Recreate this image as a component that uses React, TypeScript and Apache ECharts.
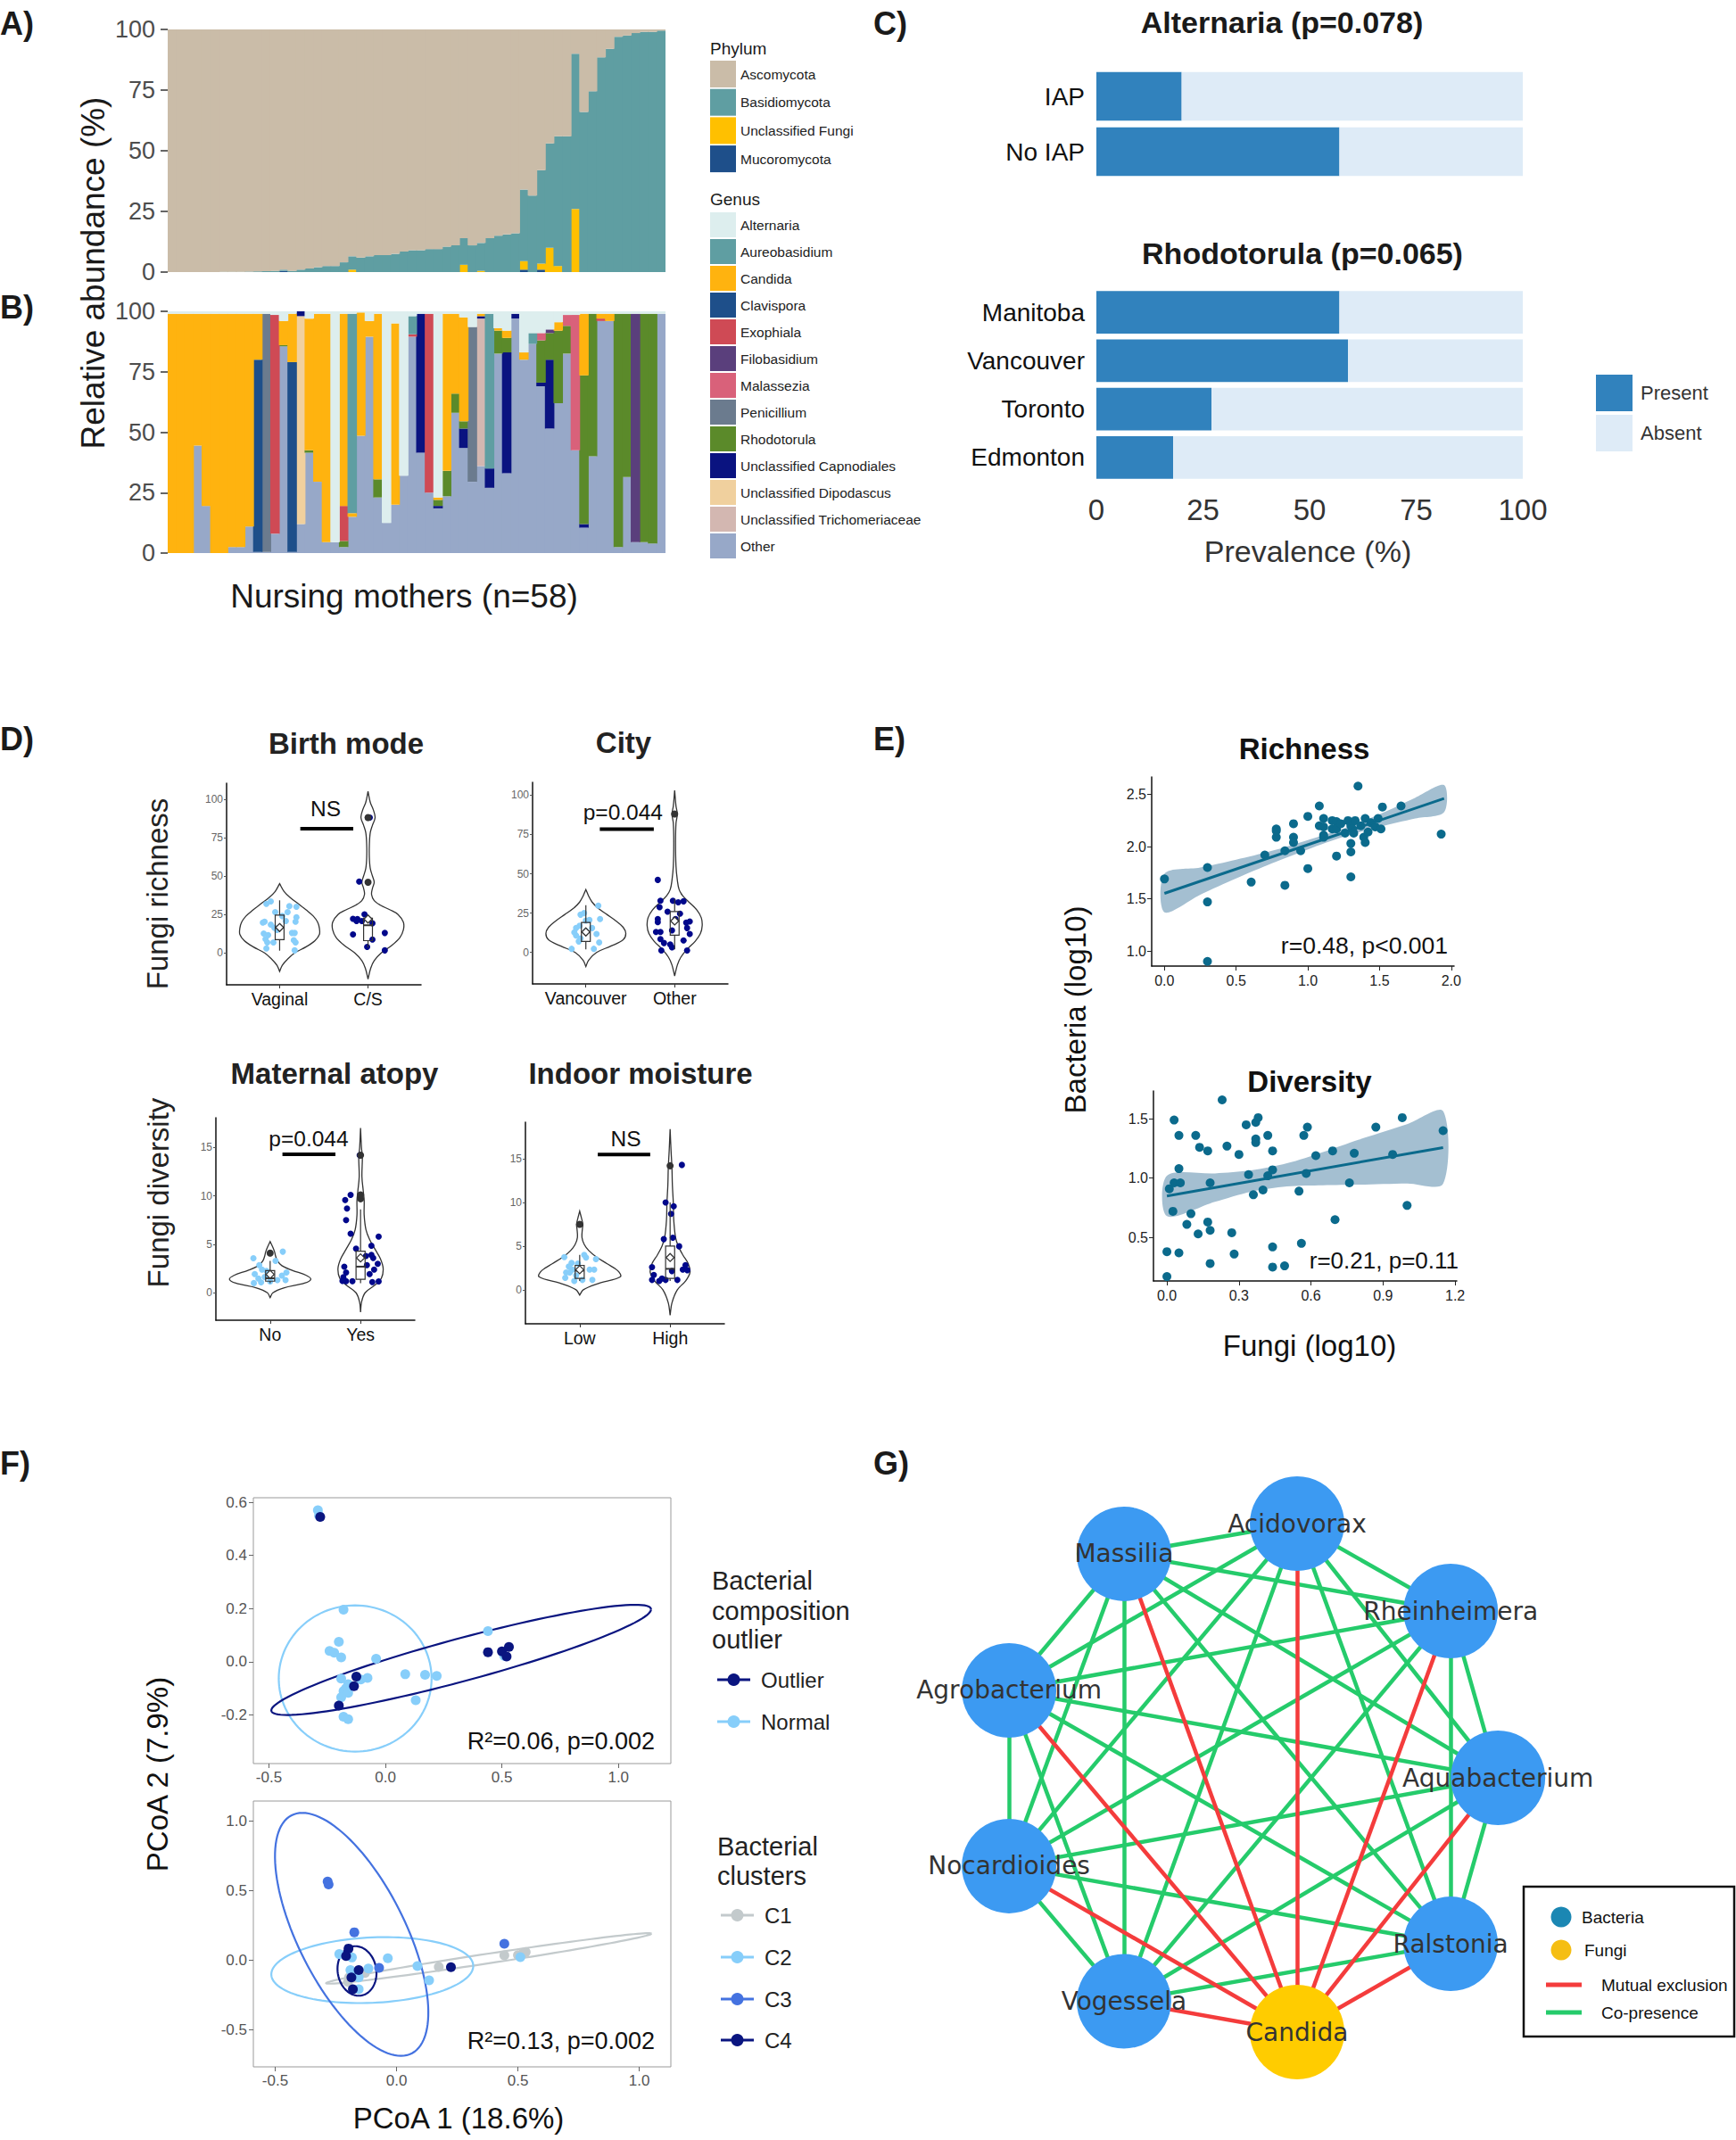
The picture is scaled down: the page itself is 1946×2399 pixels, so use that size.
import React, { useEffect, useRef } from 'react';
import * as echarts from 'echarts';

const FONT = '"Liberation Sans", Arial, Helvetica, sans-serif';
const GFONT = '"DejaVu Sans", Verdana, sans-serif';

// ---------------- Panel A (phylum) ----------------
const sampleIds = Array.from({ length: 58 }, (_, i) => 'M' + (i + 1));
const phylumLegend = ['Ascomycota', 'Basidiomycota', 'Unclassified Fungi', 'Mucoromycota'];
const phylumColors = ['#CABCA8', '#5F9EA2', '#FFC000', '#1E4F8A'];
const pMucoromycota = [0,0,0,0,0,0,0,0,0,0, 0,0,0,0.5,0,0,0,0,0,0, 0,0,0,0,0,0,0,0,0,0, 0,0,0,0,0,0,0,0,0,0, 0,1,0,1,0,0,0,0,0,0, 0,0,0,0,0,0,0,0];
const pUnclassified = [0,0,0,0,0,0,0,0,0,0, 0,0,0,0,0,0,0,0,0,0, 0,1,0,0,0,0,0,0,0,0, 0,0,0,0,3,0,0.5,0,0,0, 0,3.5,0,2.5,10,2.5,0,26,0,0, 0,0,0,0,0,0,0,0];
const pBasidiomycota = [0,0,0,0,0,0,0.1,0.1,0.1,0.2, 0.3,0.4,0.5,0.5,0.5,1,1.5,2,2.5,2.5, 4,5.5,6,6.5,7,7,7.5,8.5,9,9, 9.5,9.5,10.5,11,11,11,11.5,14,15,15.5, 16,29.5,31.5,38.5,43,53.5,56,64,66,74.5, 88.5,92,97,97.5,98.5,99,99,99.5];
const pAscomycota = [100,100,100,100,100,100,99.9,99.9,99.9,99.8, 99.7,99.6,99.5,99,99.5,99,98.5,98,97.5,97.5, 96,93.5,94,93.5,93,93,92.5,91.5,91,91, 90.5,90.5,89.5,89,86,89,88,86,85,84.5, 84,66,68.5,58,47,44,44,10,34,25.5, 11.5,8,3,2.5,1.5,1,1,0.5];

// ---------------- Panel B (genus) ----------------
const genusLegend = ['Alternaria','Aureobasidium','Candida','Clavispora','Exophiala','Filobasidium','Malassezia','Penicillium','Rhodotorula','Unclassified Capnodiales','Unclassified Dipodascus','Unclassified Trichomeriaceae','Other'];
const genusColors = ['#DDEEEE','#5F9EA2','#FFB30F','#1E4F8A','#CF4A55','#5A3F7C','#D9617A','#6B7B8E','#5B8A2A','#0A1380','#F0D09E','#D3B7B1','#97A8C8'];
const gAlternaria = [1,1,1,1,1,1,1,1,1,1, 1,1,1.5,4,1,0,3,1,1,95.5, 1,1,0.5,4,1,87.5,5,68,2,1, 1,77,1,1,2.5,6.5,1,1,7,8, 1,17,9,9,7.5,4.5,1.5,1.5,1,1, 1,1,1,1,1,1,1,1];
const gAureobasidium = [0,0,0,0,0,0,0,0,0,0, 0,0,0,0,0,0,0,0,0,0, 0,82.5,0,0,0,0,0,0,7.5,0, 0,0,0,0,0,0,0,64,0,0, 0,0,4.5,0,0,0,0,0,0,0, 0,0,0,0,0,0,0,0];
const gCandida = [99,99,99,54.5,79.5,99,99,96.5,96.5,88, 19,0,0,10,20,0,54.5,69.5,94.5,0, 79.5,1.5,51,6.5,68.5,0,75,0,0,0, 0,1,65,33,43,0,1,0,1,3, 0,3,0,0,0,3.5,0,0,25.5,0, 2,3,0,0,0,0,0,0];
const gClavispora = [0,0,0,0,0,0,0,0,0,0, 79.5,0,0,0,78.5,0,0,0,0,0, 0,0,0,0,0,0,0,0,0,0, 0,0,0,0,0,0,0,0,0,0, 0,0,0,0,0,0,0,0,0,0, 0,0,0,0,0,0,0,0];
const gExophiala = [0,0,0,0,0,0,0,0,0,0, 0,0,90.5,0,0,0,0,0,0,0, 14.5,0,0,0,0,0,0,0,1,0, 74,0,0,0,0,0,0,0,0,0, 0,0,0,0,0,0,0,0,0,0, 1,0,0,0,0,0,0,0];
const gFilobasidium = [0,0,0,0,0,0,0,0,0,0, 0,0,0,0,0,0,0,0,0,0, 0,0,0,0,0,0,0,0,0,0, 0,0,0,0,0,0,0,0,0,0, 0,0,0,0,1.5,0,0,0,0,0, 0,0,0,0,94.5,0,0,0];
const gMalassezia = [0,0,0,0,0,0,0,0,0,0, 0,0,0,0,0,0,0,0,0,0, 0,0,0,0,0,0,0,0,0,0, 0,0,0,0,0,0,0,0,0,0, 0,0,0,3,0,0,4.5,56,0,0, 0,0,0,0,0,0,0,0];
const gPenicillium = [0,0,0,0,0,0,0,0,0,0, 0,98.5,0,0,0,0,0,0,0,0, 0,0,0,0,0,0,0,0,0,0, 0,0,0,0,0,64,0,0,0,0, 0,0,0,0,0,0,0,0,0,0, 0,0,0,0,0,0,0,0];
const gRhodotorula = [0,0,0,0,0,0,0,0,0,0, 0,0,0,0.5,0,0,1,0,0,0, 2.5,0,0,0,7.5,0,0,0,0,0, 0,2.5,10.5,8,3,0,0,0,9.5,6, 0,0,0,17.5,11,30,11.5,0,61.5,59, 0,0,96.5,67.5,0,94.5,95,0];
const gCapnodiales = [0,0,0,0,0,0,0,0,0,0, 0,0,0,0,0,2,0,0,0,0, 0,0,0,0,0,0,0,0,0,57.5, 0,1,0,0,8,0,1,8,0,50, 2,0,0,1.5,28.5,0,0,0,1.5,0, 0,0,0,0,0,0,0,0];
const gDipodascus = [0,0,0,0,0,0,0,0,0,0, 0,0,0,0,0,86,0,0,0,0, 0,0,0,0,0,0,0,0,0,0, 0,0,0,0,0,0,0,0,0,0, 0,0,0,0,0,0,0,0,0,0, 0,0,0,0,0,0,0,0];
const gTrichomeriaceae = [0,0,0,0,0,0,0,0,0,0, 0,0,0,0,0,0,0,0,0,0, 0,0,0,0,0,0,0,0,0,0, 0,0,0,0,0,0,61,0,0,0, 0,0,0,0,0,0,0,0,0,0, 0,0,0,0,0,0,0,0];
const gOther = [0,0,0,44.5,19.5,0,0,2.5,2.5,11, 0.5,0.5,8,85.5,0.5,12,41.5,29.5,4.5,4.5, 2.5,15,48.5,89.5,23,12.5,20,32,89.5,41.5, 25,18.5,23.5,58,43.5,29.5,36,27,82.5,33, 97,80,86.5,69,51.5,62,82.5,42.5,10.5,40, 96,96,2.5,31.5,4.5,4.5,4,99];

// ---------------- Panel C ----------------
const iapCats = ['IAP', 'No IAP'];
const iapPresent = [20, 57];
const iapAbsent = [80, 43];
const cityCatsC = ['Manitoba', 'Vancouver', 'Toronto', 'Edmonton'];
const cityPresent = [57, 59, 27, 18];
const cityAbsent = [43, 41, 73, 82];
const prevalenceTicks = [0, 25, 50, 75, 100];

// ---------------- Panel D ----------------
const birthCats = ['Vaginal', 'C/S'];
const cityCats = ['Vancouver', 'Other'];
const atopyCats = ['No', 'Yes'];
const moistCats = ['Low', 'High'];
const richTicks = [0, 25, 50, 75, 100];
const divTicks = [0, 5, 10, 15];
// violin profiles: [y, half-width]
const vaginalViolin = [[-12,0],[-8,0.03],[-4,0.09],[0,0.17],[4,0.3],[8,0.4],[12,0.45],[16,0.45],[20,0.43],[24,0.38],[28,0.3],[32,0.21],[36,0.12],[40,0.05],[45,0]];
const csViolin = [[-17,0],[-10,0.03],[-5,0.07],[0,0.15],[5,0.27],[10,0.36],[15,0.4],[20,0.4],[25,0.34],[28,0.25],[31,0.14],[34,0.07],[38,0.04],[42,0.05],[46,0.07],[50,0.05],[55,0.025],[62,0.015],[70,0.015],[78,0.025],[83,0.05],[88,0.08],[93,0.06],[98,0.025],[105,0]];
const vanViolin = [[-9,0],[-5,0.03],[0,0.12],[4,0.28],[8,0.42],[12,0.45],[16,0.42],[20,0.34],[24,0.24],[28,0.14],[32,0.07],[36,0.03],[40,0]];
const otherViolin = [[-15,0],[-8,0.03],[-3,0.07],[2,0.14],[7,0.23],[12,0.29],[17,0.31],[22,0.3],[27,0.25],[32,0.16],[36,0.09],[40,0.05],[46,0.03],[55,0.015],[70,0.01],[82,0.015],[88,0.03],[93,0.015],[103,0]];
const atopyNoViolin = [[-0.5,0],[0,0.03],[0.5,0.15],[1,0.38],[1.4,0.45],[1.8,0.4],[2.3,0.25],[2.8,0.13],[3.3,0.08],[3.8,0.06],[4.2,0.05],[4.7,0.03],[5.3,0]];
const atopyYesViolin = [[-2,0],[-1,0.01],[0,0.05],[0.8,0.16],[1.5,0.23],[2.5,0.25],[3.5,0.22],[4.5,0.16],[5.5,0.1],[6.5,0.06],[8,0.04],[9.5,0.04],[10.5,0.03],[12,0.015],[14,0.02],[15,0.01],[17,0]];
const moistLowViolin = [[-0.6,0],[0,0.04],[0.7,0.2],[1.5,0.45],[2.2,0.42],[3,0.3],[3.8,0.18],[4.5,0.1],[5.2,0.05],[6,0.025],[7,0.03],[7.5,0.035],[8.2,0.02],[9,0]];
const moistHighViolin = [[-2.9,0],[-1.5,0.02],[0,0.08],[1,0.17],[2,0.22],[3,0.2],[4,0.14],[5,0.09],[6,0.06],[8,0.04],[10,0.035],[12,0.025],[14,0.02],[16,0.01],[18.4,0]];
// boxes: [x, low, q1, median, q3, high]
const birthBoxes = [[1,1.5,8.7,16.4,24.6,34.2],[2,3.5,8,18,22.5,25]];
const cityBoxes = [[1,2,7,13,19,30],[2,2,11,20,26,34]];
const atopyBoxes = [[1,1.0,1.2,1.5,2.3,3.3],[2,1.0,1.4,2.7,4.3,8.6]];
const moistBoxes = [[1,1.0,1.3,2.2,2.8,4.0],[2,1.0,1.3,2.4,5.0,10.0]];
const birthMeans = [[1,16.5],[2,22]];
const cityMeans = [[1,13],[2,20]];
const atopyMeans = [[1,1.9],[2,3.6]];
const moistMeans = [[1,2.3],[2,3.7]];
const birthOutliers = [[2,46],[2,88]];
const cityOutliers = [[2,88]];
const atopyOutliers = [[1,4.1],[2,9.7],[2,10.1],[2,14.2]];
const moistOutliers = [[1,7.5],[2,14.2]];
// significance: [x1, x2, y, textX, textY, label]
const birthSig = [1.234, 1.833, 80.7, 1.52, 94, 'NS'];
const citySig = [1.157, 1.765, 78.3, 1.418, 89, 'p=0.044'];
const atopySig = [1.136, 1.722, 14.3, 1.426, 15.9, 'p=0.044'];
const moistSig = [1.2, 1.78, 15.5, 1.51, 17.3, 'NS'];
const vaginalPts = [[0.85,31.9],[0.90,33.5],[0.83,20.3],[0.82,12.6],[0.87,11.6],[0.86,6.8],[0.93,6.8],[0.85,2.9],[0.95,26.5],[0.90,18.4],[0.94,16.4],[0.97,14.9],[0.81,19.7],[1.11,30.4],[1.09,26.5],[1.19,30.0],[1.19,23.2],[1.18,20.3],[1.14,13.0],[1.17,13.0],[1.16,8.3],[1.18,6.8],[1.17,1.7],[1.07,20.7],[1.03,24.0],[0.84,9.0]];
const csPts = [[1.83,22.2],[1.87,20.7],[1.93,20.7],[1.83,12.0],[2.05,8.7],[1.99,3.9],[2.19,13.0],[2.19,1.7],[1.96,25.1],[1.88,22.0],[2.02,88.0],[1.90,46.4],[2.05,19.3]];
const vanPts = [[0.84,2.3],[0.89,10.8],[0.87,12.7],[0.93,17],[0.94,8.9],[0.92,7],[1.0,20.2],[0.94,24],[0.98,25],[1.14,29.7],[1.16,21.2],[1.12,11.7],[1.15,6.4],[1.09,2.3],[1.07,15.5],[1.0,13.6],[0.89,15.5],[1.04,20.6]];
const otherPts = [[1.81,46.1],[1.84,32.9],[1.83,28.7],[1.81,21.2],[1.81,19.3],[1.84,13],[1.84,8.5],[1.85,1.3],[1.92,25.9],[1.95,5.1],[1.97,3.2],[1.98,32.9],[2.04,31.9],[2.1,32.5],[2.06,24.6],[2.13,18.9],[2.14,15.5],[2.17,19.7],[2.17,11.7],[2.1,7.6],[2.14,1.3],[1.97,14],[1.88,6],[2.01,21.2],[1.79,13]];
const atopyNoPts = [[0.815,3.57],[1.14,4.25],[1.06,3.3],[0.88,2.86],[0.91,2.4],[0.83,1.94],[0.87,1.48],[0.94,1.63],[0.9,1.08],[1.0,1.17],[1.08,1.32],[1.13,1.78],[1.17,1.32],[0.96,2.25],[0.82,1.0],[1.18,2.1]];
const atopyYesPts = [[1.83,9.57],[1.89,10.1],[1.85,8.7],[1.84,7.5],[1.89,6.1],[1.82,2.7],[1.84,2.1],[1.81,1.6],[1.84,1.2],[1.91,1.2],[1.80,1.23],[2.07,2.86],[2.1,1.94],[2.12,4.86],[2.12,3.9],[2.14,3.6],[2.19,3.0],[2.2,5.8],[2.2,1.17],[2.13,1.1],[2.06,3.8],[1.99,14.2],[1.95,4.55],[2.15,2.4]];
const moistLowPts = [[0.83,3.75],[0.91,3.07],[0.88,2.66],[0.85,1.98],[0.84,1.37],[0.92,2.32],[0.96,1.64],[0.94,1.02],[1.03,1.13],[1.11,2.32],[1.07,3.69],[1.18,3.52],[1.16,2.32],[1.14,1.13],[1.05,4.0],[0.98,3.0],[0.89,1.98]];
const moistHighPts = [[1.95,10],[2.04,9.56],[2.01,8.7],[1.93,5.8],[2.03,5.97],[2.1,4.98],[1.8,2.6],[1.82,1.7],[1.8,1.13],[1.88,1.02],[1.95,1.13],[2.08,1.13],[2.02,2.15],[2.14,2.32],[2.17,2.83],[2.19,2.25],[2.13,14.3],[1.91,1.3]];

// ---------------- Panel E ----------------
const richnessPts = [[0.0,1.69],[0.30,1.80],[0.30,1.47],[0.30,0.90],[0.605,1.66],[0.70,1.92],[0.78,2.17],[0.78,2.09],[0.78,2.15],[0.84,1.63],[0.84,1.96],[0.90,2.22],[0.90,2.09],[0.90,2.04],[0.95,1.96],[1.00,2.29],[1.00,1.79],[1.08,2.39],[1.08,2.20],[1.11,2.27],[1.11,2.19],[1.11,2.11],[1.11,2.09],[1.17,2.25],[1.17,2.17],[1.20,2.24],[1.20,2.17],[1.20,1.91],[1.23,2.22],[1.26,2.13],[1.28,2.25],[1.30,2.20],[1.30,2.03],[1.30,1.95],[1.30,1.71],[1.31,2.17],[1.32,2.13],[1.33,2.25],[1.35,2.58],[1.37,2.20],[1.39,2.09],[1.40,2.27],[1.40,2.04],[1.42,2.14],[1.44,2.23],[1.47,2.19],[1.49,2.27],[1.51,2.17],[1.52,2.38],[1.65,2.39],[1.93,2.12]];
const richnessLine = [[0, 1.552], [1.95, 2.462]];
const richnessBandX = [0, 0.25, 0.5, 0.75, 1.0, 1.25, 1.5, 1.75, 1.95];
const richnessBandLo = [1.37, 1.54, 1.695, 1.84, 1.974, 2.095, 2.19, 2.27, 2.33];
const richnessBandHi = [1.74, 1.80, 1.875, 1.96, 2.064, 2.175, 2.31, 2.47, 2.59];
const richXTicks = [0, 0.5, 1.0, 1.5, 2.0];
const richYTicks = [1.0, 1.5, 2.0, 2.5];
const diversityPts = [[0.23,1.66],[0.03,1.49],[0.05,1.36],[0.05,1.08],[0.01,0.91],[0.03,0.96],[0.056,0.96],[0.025,0.72],[0.0,0.38],[0.0,0.17],[0.05,0.37],[0.083,0.61],[0.10,0.70],[0.12,1.36],[0.136,1.26],[0.13,0.53],[0.17,1.23],[0.17,0.63],[0.18,0.56],[0.18,0.28],[0.18,0.96],[0.25,1.27],[0.27,0.54],[0.28,0.36],[0.30,1.20],[0.33,1.45],[0.34,1.03],[0.37,1.47],[0.38,1.51],[0.37,1.33],[0.37,1.30],[0.36,0.86],[0.40,0.90],[0.42,1.36],[0.42,1.02],[0.44,1.23],[0.44,1.07],[0.44,0.42],[0.44,0.25],[0.49,0.26],[0.55,0.89],[0.56,0.45],[0.57,1.36],[0.585,1.43],[0.58,1.04],[0.62,1.19],[0.69,1.23],[0.70,0.65],[0.76,0.96],[0.78,1.21],[0.87,1.43],[0.94,1.20],[0.98,1.51],[1.00,0.77],[1.15,1.40]];
const diversityLine = [[0, 0.85], [1.15, 1.258]];
const diversityBandX = [0, 0.2, 0.35, 0.5, 0.65, 0.8, 1.0, 1.15];
const diversityBandLo = [0.68, 0.80, 0.885, 0.93, 0.94, 0.945, 0.955, 0.952];
const diversityBandHi = [1.02, 1.04, 1.065, 1.125, 1.22, 1.325, 1.455, 1.565];
const divXTicks = [0, 0.3, 0.6, 0.9, 1.2];
const divYTicks = [0.5, 1.0, 1.5];

// ---------------- Panel F ----------------
const normalPts = [[-0.29,0.57],[-0.285,0.55],[-0.18,0.196],[-0.20,0.075],[-0.24,0.041],[-0.22,0.034],[-0.19,0.016],[-0.04,0.011],[-0.19,-0.063],[-0.16,-0.084],[-0.17,-0.10],[-0.18,-0.11],[-0.16,-0.117],[-0.19,-0.134],[-0.106,-0.067],[-0.077,-0.061],[0.085,-0.047],[0.17,-0.049],[0.22,-0.053],[0.13,-0.145],[-0.18,-0.207],[-0.16,-0.216],[0.44,0.115],[0.51,0.022]];
const outlierPts = [[-0.28,0.545],[-0.125,-0.056],[-0.135,-0.092],[-0.20,-0.165],[0.44,0.036],[0.50,0.039],[0.53,0.056],[0.52,0.02]];
const c1Pts = [[-0.20,-0.156],[-0.196,-0.124],[-0.13,-0.092],[0.174,-0.049],[0.444,0.034],[0.50,0.036],[0.52,0.047],[0.532,0.058]];
const c2Pts = [[-0.236,0.043],[-0.184,0.019],[-0.19,-0.071],[-0.16,-0.10],[-0.156,-0.124],[-0.156,-0.21],[-0.116,-0.06],[-0.036,0.013],[0.086,-0.043],[0.134,-0.146],[0.51,0.021]];
const c3Pts = [[-0.284,0.565],[-0.28,0.544],[-0.174,0.20],[0.444,0.118],[-0.072,-0.056]];
const c4Pts = [[-0.198,0.083],[-0.208,0.03],[-0.156,-0.071],[-0.18,-0.21],[0.224,-0.051],[-0.186,-0.124]];
// ellipses: [cx, cy, ax, ay, bx, by]
const normalEllipse = [-0.13, -0.063, 0.328, 0, 0, 0.275];
const outlierEllipse = [0.325, 0.007, 0.815, 0.19, 0, 0.083];
const c1Ellipse = [0.38, 0.012, 0.67, 0.178, 0, 0.035];
const c2Ellipse = [-0.1, -0.072, 0.416, 0.03, 0, 0.235];
const c3Ellipse = [-0.185, 0.185, -0.203, 0.873, 0.242, 0];
const c4Ellipse = [-0.163, -0.078, -0.007, 0.178, 0.08, 0];
const fXTicks = [-0.5, 0.0, 0.5, 1.0];
const fUpperYTicks = [-0.2, 0.0, 0.2, 0.4, 0.6];
const fLowerYTicks = [-0.5, 0.0, 0.5, 1.0];

// ---------------- Panel G ----------------
const nodeNames = ['Acidovorax','Massilia','Rheinheimera','Agrobacterium','Aquabacterium','Nocardioides','Ralstonia','Vogessela','Candida'];
const nodeKinds = ['Bacteria','Bacteria','Bacteria','Bacteria','Bacteria','Bacteria','Bacteria','Bacteria','Fungi'];
const nodeX = [0, -0.681, 0.604, -1.133, 0.79, -1.133, 0.604, -0.681, 0];
const nodeY = [1, 0.881, 0.656, 0.344, 0, -0.347, -0.653, -0.879, -1];
const copresenceEdges = [[0,1],[0,2],[0,3],[0,4],[0,5],[0,6],[0,7],[1,2],[1,3],[1,4],[1,5],[1,6],[1,7],[2,3],[2,4],[2,5],[2,6],[2,7],[3,4],[3,5],[3,6],[3,7],[4,5],[4,6],[4,7],[5,6],[5,7],[6,7]];
const exclusionEdges = [[8,0],[8,1],[8,2],[8,3],[8,4],[8,5],[8,6],[8,7]];

const LIGHT = '#87CEFA';
const NAVY = '#00088B';
const TEAL = '#0B6A8C';

function txt(text: string, x: number, y: number, o: any = {}) {
  return {
    type: 'text', x, y, rotation: o.rot || 0, z: 100,
    style: {
      text, fontSize: o.size || 20, fontWeight: o.bold ? 'bold' : 'normal',
      fontFamily: o.font || FONT, fill: o.color || '#1a1a1a',
      align: o.align || 'left', verticalAlign: 'middle',
    },
  };
}

function violin(gi: number, cx: number, prof: number[][]) {
  return {
    type: 'custom', xAxisIndex: gi, yAxisIndex: gi, data: [[cx, prof[0][0]]], z: 2, silent: true,
    renderItem: (_p: any, api: any) => {
      const right = prof.map(([y, w]) => api.coord([cx + w, y]));
      const left = prof.slice().reverse().map(([y, w]) => api.coord([cx - w, y]));
      return { type: 'polygon', shape: { points: right.concat(left), smooth: 0.35 }, style: { fill: 'none', stroke: '#333', lineWidth: 1.3 } };
    },
  };
}

function boxes(gi: number, bx: number[][]) {
  return {
    type: 'custom', xAxisIndex: gi, yAxisIndex: gi, data: bx.map((b) => [b[0], b[3]]), z: 4, silent: true,
    renderItem: (p: any, api: any) => {
      const [cx, lo, q1, md, q3, hi] = bx[p.dataIndex];
      const hw = 0.05;
      const a = api.coord([cx - hw, q3]);
      const b = api.coord([cx + hw, q1]);
      const m1 = api.coord([cx - hw, md]);
      const m2 = api.coord([cx + hw, md]);
      const w1 = api.coord([cx, lo]);
      const w2 = api.coord([cx, q1]);
      const w3 = api.coord([cx, q3]);
      const w4 = api.coord([cx, hi]);
      const st = { stroke: '#333', lineWidth: 1.2, fill: 'none' };
      return {
        type: 'group', children: [
          { type: 'line', shape: { x1: w1[0], y1: w1[1], x2: w2[0], y2: w2[1] }, style: st },
          { type: 'line', shape: { x1: w3[0], y1: w3[1], x2: w4[0], y2: w4[1] }, style: st },
          { type: 'rect', shape: { x: a[0], y: a[1], width: b[0] - a[0], height: b[1] - a[1] }, style: st },
          { type: 'line', shape: { x1: m1[0], y1: m1[1], x2: m2[0], y2: m2[1] }, style: { stroke: '#333', lineWidth: 2 } },
        ],
      };
    },
  };
}

function sig(gi: number, s: any[]) {
  return {
    type: 'custom', xAxisIndex: gi, yAxisIndex: gi, data: [[s[0], s[2]]], z: 5, silent: true,
    renderItem: (_p: any, api: any) => {
      const a = api.coord([s[0], s[2]]);
      const b = api.coord([s[1], s[2]]);
      const t = api.coord([s[3], s[4]]);
      return {
        type: 'group', children: [
          { type: 'line', shape: { x1: a[0], y1: a[1], x2: b[0], y2: b[1] }, style: { stroke: '#000', lineWidth: 4 } },
          { type: 'text', x: t[0], y: t[1], style: { text: s[5], fontSize: 24.5, fontFamily: FONT, fill: '#111', align: 'center', verticalAlign: 'middle' } },
        ],
      };
    },
  };
}

function scatter(gi: number, data: number[][], color: string, size: number, z = 3, extra: any = {}) {
  return { type: 'scatter', xAxisIndex: gi, yAxisIndex: gi, data, symbolSize: size, z, silent: true, itemStyle: { color, opacity: 1, ...(extra.itemStyle || {}) }, symbol: extra.symbol || 'circle', name: extra.name };
}

function ellipse(gi: number, e: number[], color: string) {
  return {
    type: 'custom', xAxisIndex: gi, yAxisIndex: gi, data: [[e[0], e[1]]], z: 2, silent: true,
    renderItem: (_p: any, api: any) => {
      const pts: number[][] = [];
      for (let k = 0; k <= 120; k++) {
        const t = (k / 120) * Math.PI * 2;
        pts.push(api.coord([e[0] + e[2] * Math.cos(t) + e[4] * Math.sin(t), e[1] + e[3] * Math.cos(t) + e[5] * Math.sin(t)]));
      }
      return { type: 'polyline', shape: { points: pts }, style: { stroke: color, lineWidth: 2.2, fill: 'none' } };
    },
  };
}

function band(gi: number, xs: number[], lo: number[], hi: number[]) {
  return {
    type: 'custom', xAxisIndex: gi, yAxisIndex: gi, data: [[xs[0], lo[0]]], z: 1, silent: true,
    renderItem: (_p: any, api: any) => {
      const up = xs.map((x, i) => api.coord([x, hi[i]]));
      const dn = xs.map((x, i) => api.coord([x, lo[i]])).reverse();
      return { type: 'polygon', shape: { points: up.concat(dn), smooth: 0.3 }, style: { fill: '#A4BFD1', stroke: 'none' } };
    },
  };
}

function buildOption() {
  const grids: any[] = [
    { left: 188, top: 33, width: 558, height: 272 },   // 0 A
    { left: 188, top: 349, width: 558, height: 271 },  // 1 B
    { left: 1229, top: 77, width: 478, height: 124 },  // 2 C1
    { left: 1229, top: 323, width: 478, height: 217 }, // 3 C2
    { left: 254, top: 878, width: 218, height: 226 },  // 4 birth
    { left: 597, top: 877, width: 219, height: 226 },  // 5 city
    { left: 242, top: 1253, width: 223, height: 227 }, // 6 atopy
    { left: 589, top: 1258, width: 223, height: 226 }, // 7 moisture
    { left: 1291, top: 871, width: 339, height: 212 }, // 8 richness
    { left: 1293, top: 1223, width: 340, height: 213 },// 9 diversity
    { left: 284, top: 1679, width: 468, height: 298, show: true, borderColor: '#9a9a9a', borderWidth: 1 }, // 10 F upper
    { left: 284, top: 2019, width: 468, height: 298, show: true, borderColor: '#9a9a9a', borderWidth: 1 }, // 11 F lower
    { left: 998, top: 1651, width: 912, height: 684 }, // 12 G
  ];

  const xAxes: any[] = [];
  const yAxes: any[] = [];

  // A, B
  [0, 1].forEach((gi) => {
    xAxes.push({ type: 'category', gridIndex: gi, data: sampleIds, show: false });
    yAxes.push({
      type: 'value', gridIndex: gi, min: 0, max: 100, interval: 25,
      axisLine: { show: false }, axisTick: { show: true, length: 8, lineStyle: { color: '#333', width: 1.5 } },
      axisLabel: { fontSize: 27, color: '#4d4d4d', margin: 14, fontFamily: FONT }, splitLine: { show: false },
    });
  });
  // C
  xAxes.push({ type: 'value', gridIndex: 2, min: 0, max: 100, show: false });
  yAxes.push({ type: 'category', gridIndex: 2, data: iapCats, inverse: true, axisLine: { show: false }, axisTick: { show: false }, axisLabel: { fontSize: 28, color: '#111', margin: 13, fontFamily: FONT } });
  xAxes.push({
    type: 'value', gridIndex: 3, min: 0, max: 100, axisLine: { show: false }, axisTick: { show: false }, splitLine: { show: false },
    axisLabel: { customValues: prevalenceTicks, fontSize: 33, color: '#333', margin: 15, fontFamily: FONT },
  });
  yAxes.push({ type: 'category', gridIndex: 3, data: cityCatsC, inverse: true, axisLine: { show: false }, axisTick: { show: false }, axisLabel: { fontSize: 28, color: '#111', margin: 13, fontFamily: FONT } });

  // D
  const dAx = (gi: number, cats: string[], ymin: number, ymax: number, ticks: number[]) => {
    xAxes.push({
      type: 'value', gridIndex: gi, min: 0.4, max: 2.6,
      axisLine: { show: true, onZero: false, lineStyle: { color: '#111', width: 1.5 } },
      axisTick: { show: true, length: 4, customValues: [1, 2], lineStyle: { color: '#333' } },
      axisLabel: { customValues: [1, 2], formatter: (v: number) => cats[Math.round(v) - 1], fontSize: 19.5, color: '#111', margin: 6, fontFamily: FONT },
      splitLine: { show: false },
    });
    yAxes.push({
      type: 'value', gridIndex: gi, min: ymin, max: ymax,
      axisLine: { show: true, onZero: false, lineStyle: { color: '#111', width: 1.5 } },
      axisTick: { show: true, length: 3, customValues: ticks, lineStyle: { color: '#555' } },
      axisLabel: { customValues: ticks, fontSize: 12, color: '#666', margin: 4, fontFamily: FONT },
      splitLine: { show: false },
    });
  };
  dAx(4, birthCats, -20.7, 110.3, richTicks);
  dAx(5, cityCats, -20, 108.1, richTicks);
  dAx(6, atopyCats, -2.83, 18.07, divTicks);
  dAx(7, moistCats, -3.89, 19.19, divTicks);

  // E
  const eAx = (gi: number, xmin: number, xmax: number, xt: number[], ymin: number, ymax: number, yt: number[]) => {
    xAxes.push({
      type: 'value', gridIndex: gi, min: xmin, max: xmax,
      axisLine: { show: true, onZero: false, lineStyle: { color: '#111', width: 1.5 } },
      axisTick: { show: true, length: 5, customValues: xt, lineStyle: { color: '#222' } },
      axisLabel: { customValues: xt, formatter: (v: number) => v.toFixed(1), fontSize: 16, color: '#222', margin: 8, fontFamily: FONT },
      splitLine: { show: false },
    });
    yAxes.push({
      type: 'value', gridIndex: gi, min: ymin, max: ymax,
      axisLine: { show: true, onZero: false, lineStyle: { color: '#111', width: 1.5 } },
      axisTick: { show: true, length: 5, customValues: yt, lineStyle: { color: '#222' } },
      axisLabel: { customValues: yt, formatter: (v: number) => v.toFixed(1), fontSize: 16, color: '#222', margin: 6, fontFamily: FONT },
      splitLine: { show: false },
    });
  };
  eAx(8, -0.089, 2.02, richXTicks, 0.855, 2.668, richYTicks);
  eAx(9, -0.056, 1.207, divXTicks, 0.133, 1.735, divYTicks);

  // F
  const fAx = (gi: number, xmin: number, xmax: number, ymin: number, ymax: number, yt: number[]) => {
    xAxes.push({
      type: 'value', gridIndex: gi, min: xmin, max: xmax,
      axisLine: { show: false, onZero: false }, axisTick: { show: true, length: 5, customValues: fXTicks, lineStyle: { color: '#666' } },
      axisLabel: { customValues: fXTicks, formatter: (v: number) => v.toFixed(1), fontSize: 17, color: '#555', margin: 7, fontFamily: FONT },
      splitLine: { show: false },
    });
    yAxes.push({
      type: 'value', gridIndex: gi, min: ymin, max: ymax,
      axisLine: { show: false, onZero: false }, axisTick: { show: true, length: 5, customValues: yt, lineStyle: { color: '#666' } },
      axisLabel: { customValues: yt, formatter: (v: number) => v.toFixed(1), fontSize: 17, color: '#555', margin: 7, fontFamily: FONT },
      splitLine: { show: false },
    });
  };
  fAx(10, -0.567, 1.225, -0.383, 0.617, fUpperYTicks);
  fAx(11, -0.59, 1.13, -0.767, 1.143, fLowerYTicks);

  // G
  xAxes.push({ type: 'value', gridIndex: 12, min: -1.6, max: 1.6, show: false });
  yAxes.push({ type: 'value', gridIndex: 12, min: -1.2, max: 1.2, show: false });

  const series: any[] = [];
  // A — bars slightly wider than their band so neighbours overlap (no anti-aliasing seams)
  const BAR_W = 10.6;
  const phylumData = [pAscomycota, pBasidiomycota, pUnclassified, pMucoromycota];
  [3, 2, 1, 0].forEach((k) => {
    series.push({ type: 'bar', name: phylumLegend[k], xAxisIndex: 0, yAxisIndex: 0, stack: 'A', barWidth: BAR_W, data: phylumData[k], itemStyle: { color: phylumColors[k] }, silent: true });
  });
  // B
  const genusData = [gAlternaria, gAureobasidium, gCandida, gClavispora, gExophiala, gFilobasidium, gMalassezia, gPenicillium, gRhodotorula, gCapnodiales, gDipodascus, gTrichomeriaceae, gOther];
  for (let k = genusLegend.length - 1; k >= 0; k--) {
    series.push({ type: 'bar', name: genusLegend[k], xAxisIndex: 1, yAxisIndex: 1, stack: 'B', barWidth: BAR_W, data: genusData[k], itemStyle: { color: genusColors[k] }, silent: true });
  }
  // C
  series.push({ type: 'bar', name: 'Present', xAxisIndex: 2, yAxisIndex: 2, stack: 'C1', barCategoryGap: '12%', data: iapPresent, itemStyle: { color: '#3182BD' }, silent: true });
  series.push({ type: 'bar', name: 'Absent', xAxisIndex: 2, yAxisIndex: 2, stack: 'C1', barCategoryGap: '12%', data: iapAbsent, itemStyle: { color: '#DEEBF7' }, silent: true });
  series.push({ type: 'bar', name: 'Present', xAxisIndex: 3, yAxisIndex: 3, stack: 'C2', barCategoryGap: '11.6%', data: cityPresent, itemStyle: { color: '#3182BD' }, silent: true });
  series.push({ type: 'bar', name: 'Absent', xAxisIndex: 3, yAxisIndex: 3, stack: 'C2', barCategoryGap: '11.6%', data: cityAbsent, itemStyle: { color: '#DEEBF7' }, silent: true });

  // D
  const dPanel = (gi: number, v1: number[][], v2: number[][], p1: number[][], p2: number[][], bx: number[][], means: number[][], outl: number[][], s: any[]) => {
    series.push(violin(gi, 1, v1));
    series.push(violin(gi, 2, v2));
    series.push(scatter(gi, p1, LIGHT, 7));
    series.push(scatter(gi, p2, NAVY, 7));
    series.push(boxes(gi, bx));
    series.push(scatter(gi, outl, '#333', 8, 5));
    series.push(scatter(gi, means, '#fff', 9, 6, { symbol: 'diamond', itemStyle: { borderColor: '#333', borderWidth: 1.3 } }));
    series.push(sig(gi, s));
  };
  dPanel(4, vaginalViolin, csViolin, vaginalPts, csPts, birthBoxes, birthMeans, birthOutliers, birthSig);
  dPanel(5, vanViolin, otherViolin, vanPts, otherPts, cityBoxes, cityMeans, cityOutliers, citySig);
  dPanel(6, atopyNoViolin, atopyYesViolin, atopyNoPts, atopyYesPts, atopyBoxes, atopyMeans, atopyOutliers, atopySig);
  dPanel(7, moistLowViolin, moistHighViolin, moistLowPts, moistHighPts, moistBoxes, moistMeans, moistOutliers, moistSig);

  // E
  series.push(band(8, richnessBandX, richnessBandLo, richnessBandHi));
  series.push(scatter(8, richnessPts, TEAL, 10, 3));
  series.push({ type: 'line', xAxisIndex: 8, yAxisIndex: 8, data: richnessLine, showSymbol: false, symbol: 'none', lineStyle: { color: TEAL, width: 3 }, z: 4, silent: true });
  series.push(band(9, diversityBandX, diversityBandLo, diversityBandHi));
  series.push(scatter(9, diversityPts, TEAL, 10, 3));
  series.push({ type: 'line', xAxisIndex: 9, yAxisIndex: 9, data: diversityLine, showSymbol: false, symbol: 'none', lineStyle: { color: TEAL, width: 3 }, z: 4, silent: true });

  // F
  series.push(ellipse(10, normalEllipse, LIGHT));
  series.push(ellipse(10, outlierEllipse, '#0A1580'));
  series.push(scatter(10, normalPts, LIGHT, 11, 3));
  series.push(scatter(10, outlierPts, '#0A1580', 11, 4));
  series.push(ellipse(11, c1Ellipse, '#C3CACC'));
  series.push(ellipse(11, c2Ellipse, LIGHT));
  series.push(ellipse(11, c3Ellipse, '#4472E0'));
  series.push(ellipse(11, c4Ellipse, '#0A1580'));
  series.push(scatter(11, c1Pts, '#C3CACC', 11, 3));
  series.push(scatter(11, c2Pts, LIGHT, 11, 3));
  series.push(scatter(11, c3Pts, '#4472E0', 11, 4));
  series.push(scatter(11, c4Pts, '#0A1580', 11, 5));

  // G
  const links = copresenceEdges.map(([s, t]) => ({ source: s, target: t, lineStyle: { color: '#25CB6B', width: 4.5, opacity: 1 } }))
    .concat(exclusionEdges.map(([s, t]) => ({ source: s, target: t, lineStyle: { color: '#F43C3C', width: 4.5, opacity: 1 } })));
  series.push({
    type: 'graph', coordinateSystem: 'cartesian2d', xAxisIndex: 12, yAxisIndex: 12, layout: 'none', silent: true,
    symbol: 'circle', symbolSize: 106,
    data: nodeNames.map((n, i) => ({ name: n, value: [nodeX[i], nodeY[i]], itemStyle: { color: nodeKinds[i] === 'Fungi' ? '#FFCC00' : '#3C9AF2' } })),
    links,
    lineStyle: { opacity: 1, curveness: 0 },
    label: { show: true, position: 'inside', fontSize: 28, fontFamily: GFONT, color: '#333' },
    z: 2,
  });

  const graphic: any[] = [
    // panel labels
    txt('A)', 0, 26, { size: 36, bold: true }),
    txt('B)', 0, 344, { size: 36, bold: true }),
    txt('C)', 979, 26, { size: 36, bold: true }),
    txt('D)', 0, 828, { size: 36, bold: true }),
    txt('E)', 979, 828, { size: 36, bold: true }),
    txt('F)', 0, 1640, { size: 36, bold: true }),
    txt('G)', 979, 1640, { size: 36, bold: true }),
    // A/B
    txt('Relative abundance (%)', 104, 306, { size: 37, rot: Math.PI / 2, align: 'center', color: '#1a1a1a' }),
    txt('Nursing mothers (n=58)', 453, 668, { size: 37, align: 'center', color: '#1a1a1a' }),
    txt('Phylum', 796, 54, { size: 19 }),
    txt('Genus', 796, 223, { size: 19 }),
    // C
    txt('Alternaria (p=0.078)', 1437, 25, { size: 34, bold: true, align: 'center' }),
    txt('Rhodotorula (p=0.065)', 1460, 284, { size: 34, bold: true, align: 'center' }),
    txt('Prevalence (%)', 1466, 618, { size: 34, align: 'center', color: '#333' }),
    // D
    txt('Birth mode', 388, 833, { size: 33, bold: true, align: 'center', color: '#222' }),
    txt('City', 699, 832, { size: 33, bold: true, align: 'center', color: '#222' }),
    txt('Maternal atopy', 375, 1203, { size: 33, bold: true, align: 'center', color: '#222' }),
    txt('Indoor moisture', 718, 1203, { size: 33, bold: true, align: 'center', color: '#222' }),
    txt('Fungi richness', 176, 1002, { size: 33, rot: Math.PI / 2, align: 'center', color: '#222' }),
    txt('Fungi diversity', 177, 1337, { size: 33, rot: Math.PI / 2, align: 'center', color: '#222' }),
    // E
    txt('Richness', 1462, 839, { size: 33, bold: true, align: 'center', color: '#111' }),
    txt('Diversity', 1468, 1212, { size: 33, bold: true, align: 'center', color: '#111' }),
    txt('r=0.48, p<0.001', 1623, 1060, { size: 26.5, align: 'right', color: '#111' }),
    txt('r=0.21, p=0.11', 1635, 1413, { size: 26, align: 'right', color: '#111' }),
    txt('Bacteria (log10)', 1205, 1132, { size: 33, rot: Math.PI / 2, align: 'center', color: '#111' }),
    txt('Fungi (log10)', 1468, 1508, { size: 33, align: 'center', color: '#111' }),
    // F
    txt('PCoA 2 (7.9%)', 176, 1989, { size: 33, rot: Math.PI / 2, align: 'center', color: '#111' }),
    txt('PCoA 1 (18.6%)', 514, 2374, { size: 33, align: 'center', color: '#111' }),
    txt('R²=0.06, p=0.002', 734, 1952, { size: 27, align: 'right', color: '#111' }),
    txt('R²=0.13, p=0.002', 734, 2288, { size: 27, align: 'right', color: '#111' }),
    txt('Bacterial', 798, 1772, { size: 29, color: '#222' }),
    txt('composition', 798, 1806, { size: 29, color: '#222' }),
    txt('outlier', 798, 1838, { size: 29, color: '#222' }),
    txt('Bacterial', 804, 2070, { size: 29, color: '#222' }),
    txt('clusters', 804, 2103, { size: 29, color: '#222' }),
  ];
  const fLegend = (x1: number, x2: number, y: number, color: string, label: string, tx: number) => {
    graphic.push({ type: 'line', shape: { x1, y1: y, x2, y2: y }, style: { stroke: color, lineWidth: 3 }, z: 100 });
    graphic.push({ type: 'circle', shape: { cx: (x1 + x2) / 2, cy: y, r: 7 }, style: { fill: color }, z: 101 });
    graphic.push(txt(label, tx, y, { size: 24, color: '#222' }));
  };
  fLegend(804, 841, 1883, '#0A1580', 'Outlier', 853);
  fLegend(804, 841, 1930, LIGHT, 'Normal', 853);
  fLegend(808, 845, 2147, '#C3CACC', 'C1', 857);
  fLegend(808, 845, 2194, LIGHT, 'C2', 857);
  fLegend(808, 845, 2241, '#4472E0', 'C3', 857);
  fLegend(808, 845, 2287, '#0A1580', 'C4', 857);
  // G legend
  graphic.push({ type: 'rect', shape: { x: 1708, y: 2115, width: 236, height: 168 }, style: { fill: '#fff', stroke: '#111', lineWidth: 2.5 }, z: 99 });
  graphic.push({ type: 'circle', shape: { cx: 1750, cy: 2149, r: 11.5 }, style: { fill: '#1B87B3' }, z: 100 });
  graphic.push(txt('Bacteria', 1773, 2149, { size: 19, color: '#111' }));
  graphic.push({ type: 'circle', shape: { cx: 1750, cy: 2186, r: 11.5 }, style: { fill: '#F5BE13' }, z: 100 });
  graphic.push(txt('Fungi', 1776, 2186, { size: 19, color: '#111' }));
  graphic.push({ type: 'line', shape: { x1: 1733, y1: 2225, x2: 1773, y2: 2225 }, style: { stroke: '#F43C3C', lineWidth: 5 }, z: 100 });
  graphic.push(txt('Mutual exclusion', 1795, 2225, { size: 19, color: '#111' }));
  graphic.push({ type: 'line', shape: { x1: 1733, y1: 2256, x2: 1773, y2: 2256 }, style: { stroke: '#25CB6B', lineWidth: 5 }, z: 100 });
  graphic.push(txt('Co-presence', 1795, 2256, { size: 19, color: '#111' }));

  return {
    animation: false,
    backgroundColor: '#ffffff',
    textStyle: { fontFamily: FONT },
    grid: grids,
    xAxis: xAxes,
    yAxis: yAxes,
    legend: [
      { data: phylumLegend, orient: 'vertical', left: 796, top: 68, itemWidth: 29, itemHeight: 30, itemGap: 1.7, padding: 0, icon: 'rect', selectedMode: false, itemStyle: { borderWidth: 0 }, textStyle: { fontSize: 15.5, color: '#222', fontFamily: FONT } },
      { data: genusLegend, orient: 'vertical', left: 796, top: 238, itemWidth: 29, itemHeight: 28, itemGap: 2, padding: 0, icon: 'rect', selectedMode: false, itemStyle: { borderWidth: 0 }, textStyle: { fontSize: 15.5, color: '#222', fontFamily: FONT } },
      { data: ['Present', 'Absent'], orient: 'vertical', left: 1789, top: 420, itemWidth: 41, itemHeight: 41, itemGap: 4, padding: 0, icon: 'rect', selectedMode: false, itemStyle: { borderWidth: 0 }, textStyle: { fontSize: 22, color: '#333', fontFamily: FONT, padding: [0, 0, 0, 4] } },
    ],
    series,
    graphic,
  };
}

export default function App() {
  const ref = useRef<HTMLDivElement>(null);
  useEffect(() => {
    const chart = echarts.init(ref.current as HTMLDivElement, null, { renderer: 'svg' });
    chart.setOption(buildOption() as any);
    return () => chart.dispose();
  }, []);
  return <div ref={ref} style={{ position: 'absolute', left: 0, top: 0, width: 1946, height: 2399, background: '#fff' }} />;
}
